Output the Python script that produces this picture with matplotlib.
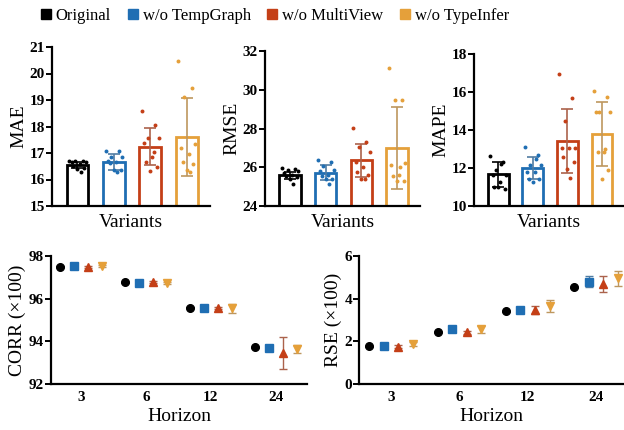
import numpy as np
import matplotlib
matplotlib.use('Agg')
import matplotlib.pyplot as plt
from matplotlib.lines import Line2D
from matplotlib.colors import to_rgb

plt.rcParams['font.family'] = ['Liberation Serif', 'DejaVu Serif']

variants = ['Original', 'w/o TempGraph', 'w/o MultiView', 'w/o TypeInfer']
colors = ['#000000', '#1f6eb3', '#c43f17', '#e5a03a']

# ---- top row: bar charts (mean, sd, individual runs)
mae_mean = [16.54, 16.67, 17.24, 17.62]
mae_sd = [0.12, 0.30, 0.70, 1.47]
mae_pts = [[16.70, 16.70, 16.68, 16.67, 16.66, 16.60, 16.52, 16.45, 16.40, 16.27],
           [17.07, 17.07, 16.86, 16.86, 16.68, 16.66, 16.62, 16.35, 16.35, 16.27],
           [18.58, 18.06, 17.55, 17.55, 17.36, 16.86, 16.67, 16.48, 16.32, 17.05],
           [20.46, 19.45, 19.10, 17.34, 17.17, 16.97, 16.65, 16.60, 16.35, 16.28]]

rmse_mean = [25.58, 25.72, 26.35, 27.00]
rmse_sd = [0.20, 0.40, 0.85, 2.10]
rmse_pts = [[25.96, 25.90, 25.85, 25.80, 25.70, 25.60, 25.55, 25.50, 25.40, 25.15],
            [26.39, 26.27, 26.05, 25.84, 25.80, 25.58, 25.55, 25.37, 25.37, 25.15],
            [28.04, 27.30, 27.04, 26.79, 26.27, 26.00, 25.78, 25.58, 25.37, 25.37],
            [31.14, 29.49, 29.49, 26.22, 26.10, 25.58, 25.55, 25.29, 25.29, 26.00]]

mape_mean = [11.66, 12.00, 13.42, 13.79]
mape_sd = [0.66, 0.60, 1.70, 1.67]
mape_pts = [[12.64, 12.33, 11.89, 11.62, 11.62, 11.27, 11.00, 10.92, 11.00, 12.20],
            [13.12, 12.68, 12.15, 12.15, 11.80, 11.80, 11.44, 11.44, 11.27, 12.50],
            [16.94, 15.67, 14.48, 13.03, 13.03, 13.03, 12.59, 12.33, 11.97, 11.50],
            [16.06, 15.73, 14.97, 14.97, 14.97, 12.85, 12.85, 11.89, 11.44, 13.00]]

# ---- bottom row: horizon results
horizons = ['3', '6', '12', '24']
corr_mean = [[97.50, 96.77, 95.58, 93.72],
             [97.53, 96.72, 95.58, 93.67],
             [97.50, 96.78, 95.56, 93.44],
             [97.55, 96.75, 95.55, 93.64]]
corr_err = [[0.02, 0.02, 0.02, 0.02],
            [0.03, 0.03, 0.03, 0.03],
            [0.04, 0.04, 0.04, 0.75],
            [0.05, 0.05, 0.20, 0.20]]
rse_mean = [[1.77, 2.44, 3.41, 4.53],
            [1.78, 2.56, 3.47, 4.80],
            [1.75, 2.42, 3.47, 4.67],
            [1.87, 2.56, 3.66, 4.95]]
rse_err = [[0.02, 0.02, 0.02, 0.02],
           [0.05, 0.10, 0.05, 0.25],
           [0.06, 0.06, 0.20, 0.37],
           [0.10, 0.18, 0.30, 0.35]]
markers = ['o', 's', '^', 'v']

jitter = [-0.20, 0.12, -0.06, 0.20, -0.14, 0.05, -0.10, 0.16, 0.00, 0.08]


def errcol(c):
    r = np.array(to_rgb(c))
    g = np.array([0.55, 0.55, 0.55])
    return tuple(0.55 * r + 0.45 * g) if c != '#000000' else (0, 0, 0)


fig = plt.figure(figsize=(6.24, 4.30), dpi=100)
H = 430.0
W = 624.0


def style(ax):
    for s in ['top', 'right']:
        ax.spines[s].set_visible(False)
    for s in ['left', 'bottom']:
        ax.spines[s].set_linewidth(1.6)
    ax.tick_params(axis='y', width=1.4, length=4, labelsize=11, pad=1)
    for lab in ax.get_yticklabels():
        lab.set_fontweight('bold')


def bar_panel(rect, means, sds, pts, ylim, yticks, ylabel):
    ax = fig.add_axes(rect)
    x = np.arange(4)
    for i in range(4):
        ax.bar(x[i], means[i], width=0.6, bottom=0, color='white',
               edgecolor=colors[i], linewidth=2.0, zorder=2)
        ax.errorbar(x[i], means[i], yerr=sds[i], color=errcol(colors[i]),
                    capsize=4, elinewidth=1.2, capthick=1.2, zorder=3)
        ax.scatter(x[i] + np.array(jitter) * 1.15, pts[i], s=8,
                   color=colors[i], zorder=4, linewidths=0)
    ax.set_xlim(-0.7, 3.64)
    ax.set_ylim(*ylim)
    ax.set_yticks(yticks)
    ax.set_xticks(x)
    ax.set_xticklabels([])
    ax.tick_params(axis='x', direction='in', length=6, width=1.4)
    ax.set_xlabel('Variants', fontsize=14, labelpad=2)
    ax.set_ylabel(ylabel, fontsize=14, labelpad=2)
    style(ax)
    return ax


bar_panel([52 / W, 1 - 206 / H, 158 / W, 159 / H], mae_mean, mae_sd, mae_pts,
          (15, 21), [15, 16, 17, 18, 19, 20, 21], 'MAE')
bar_panel([265 / W, 1 - 206 / H, 155 / W, 155 / H], rmse_mean, rmse_sd, rmse_pts,
          (24, 32), [24, 26, 28, 30, 32], 'RMSE')
bar_panel([474 / W, 1 - 206 / H, 150 / W, 152 / H], mape_mean, mape_sd, mape_pts,
          (10, 18), [10, 12, 14, 16, 18], 'MAPE')


def dot_panel(rect, means, errs, ylim, yticks, ylabel, xlim):
    ax = fig.add_axes(rect)
    x = np.arange(4)
    offs = [-0.32, -0.107, 0.107, 0.32]
    for i in range(4):
        ax.errorbar(x + offs[i], means[i], yerr=errs[i], fmt=markers[i],
                    color=colors[i], ecolor=errcol(colors[i]), ms=5.5,
                    mec=colors[i], capsize=3, elinewidth=1.0, capthick=1.0,
                    zorder=3)
    ax.set_xlim(*xlim)
    ax.set_ylim(*ylim)
    ax.set_yticks(yticks)
    ax.set_xticks(x)
    ax.set_xticklabels(horizons)
    ax.tick_params(axis='x', length=0, labelsize=11, pad=5)
    for lab in ax.get_xticklabels():
        lab.set_fontweight('bold')
    ax.set_xlabel('Horizon', fontsize=14, labelpad=3)
    ax.set_ylabel(ylabel, fontsize=14, labelpad=2)
    style(ax)
    return ax


dot_panel([51 / W, 1 - 384 / H, 256 / W, 128 / H], corr_mean, corr_err,
          (92, 98), [92, 94, 96, 98], 'CORR (×100)', (-0.46, 3.48))
dot_panel([359 / W, 1 - 384 / H, 265 / W, 128 / H], rse_mean, rse_err,
          (0, 6), [0, 2, 4, 6], 'RSE (×100)', (-0.47, 3.41))

handles = [Line2D([], [], marker='s', ls='none', color=c, ms=7) for c in colors]
fig.legend(handles, variants, loc='center', bbox_to_anchor=(275 / W, 1 - 16 / H),
           ncol=4, frameon=False, fontsize=12, handlelength=0.6,
           handletextpad=0.3, columnspacing=1.0)

fig.savefig('out.png', dpi=100)
